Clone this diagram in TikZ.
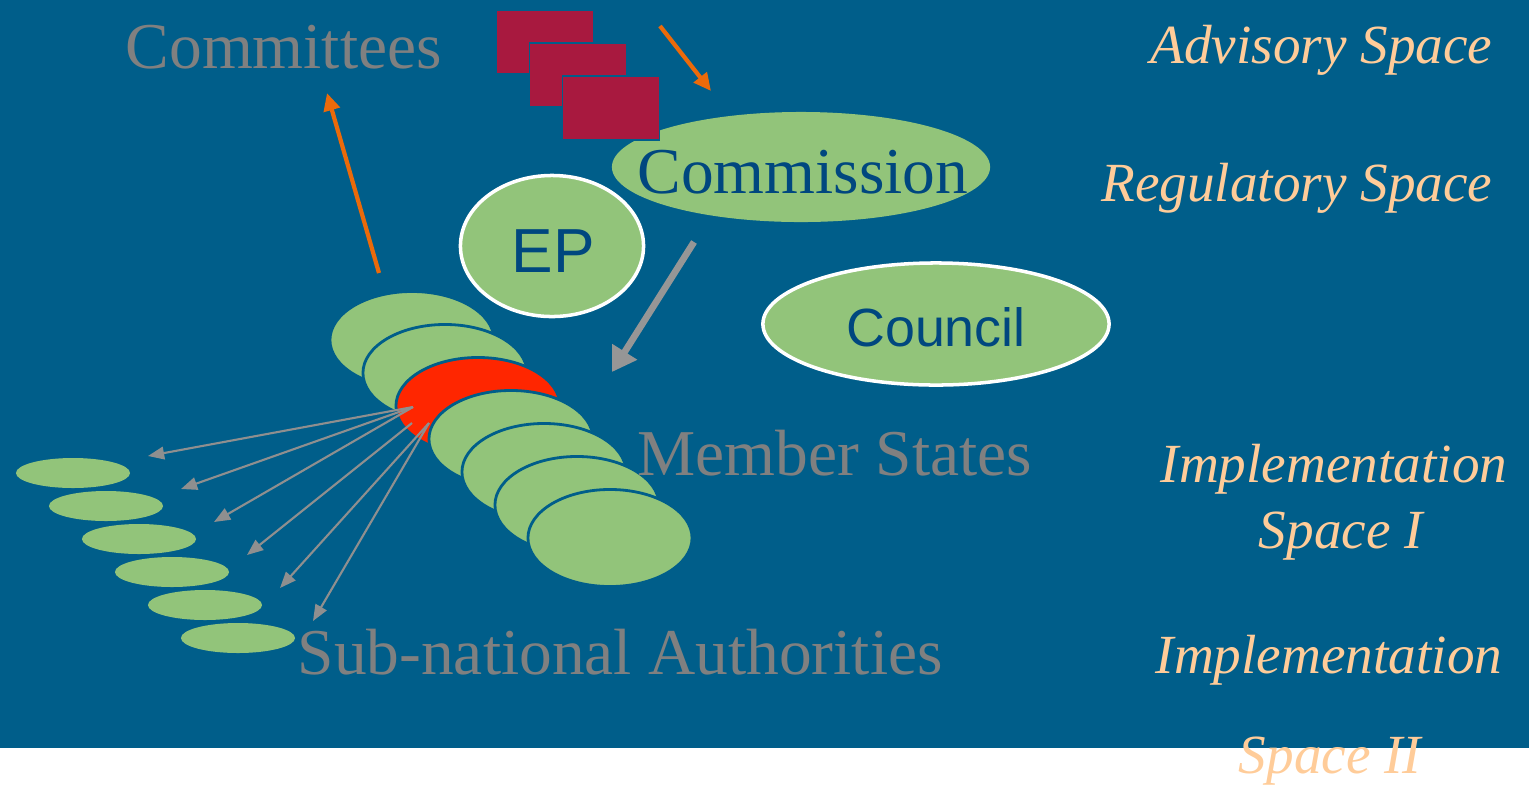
\documentclass[tikz,border=0pt]{standalone}
\usepackage{fontspec}
\setmainfont{Liberation Serif}
\newfontfamily\arialfont{Liberation Sans}
\usepackage{tikz}
\usetikzlibrary{arrows.meta,positioning,calc,shapes.geometric}
\definecolor{Bg}{HTML}{005E8A}
\definecolor{Leaf}{HTML}{92C47A}
\definecolor{Hot}{HTML}{FF2600}
\definecolor{Wine}{HTML}{A8193F}
\definecolor{Orng}{HTML}{EB6A0A}
\definecolor{Gry}{HTML}{808080}
\definecolor{Fan}{HTML}{8F8F8F}
\definecolor{Steel}{HTML}{969696}
\definecolor{Peach}{HTML}{FFCC99}
\definecolor{Navy}{HTML}{00477F}
\tikzset{
  >=Latex,
  ms/.style={ellipse,draw=Bg,line width=.8pt,fill=Leaf,minimum width=1.64cm,minimum height=.97cm,inner sep=0pt},
  subauth/.style={ellipse,fill=Leaf,minimum width=1.14cm,minimum height=.30cm,inner sep=0pt},
  inst/.style={ellipse,draw=white,line width=1pt,fill=Leaf,inner sep=0pt},
  doc/.style={rectangle,fill=Wine,draw=Bg,line width=.5pt,minimum width=.97cm,minimum height=.64cm,inner sep=0pt},
  orng/.style={-{Triangle[width=4.6pt,length=5pt]},line width=1.2pt,draw=Orng},
  fan/.style={-{Triangle[width=3.6pt,length=4.6pt]},line width=.6pt,draw=Fan},
  down/.style={-{Triangle[width=8pt,length=6.8pt]},line width=1.9pt,draw=Steel},
  grey/.style={text=Gry,font=\fontsize{18.6}{22}\selectfont,inner sep=0pt},
  dark/.style={text=Navy,inner sep=0pt},
  spc/.style={text=Peach,font=\itshape\fontsize{15.7}{19}\selectfont,inner sep=0pt}
}
\begin{document}
\begin{tikzpicture}[x=0.01cm,y=-0.01cm]
    \useasboundingbox (0,0) rectangle (1529,787);
    \fill[Bg] (0,0) rectangle (1529,748);
    % institutions
    \node[ellipse,fill=Leaf,minimum width=3.78cm,minimum height=1.10cm] (comm) at (801,167) {};
    \node[doc] (sq1) at (545,42) {};
    \node[doc] (sq2) at (578,75) {};
    \node[doc] (sq3) at (611,108) {};
    \node[inst,minimum width=1.83cm,minimum height=1.41cm] (ep) at (552,246) {};
    \node[inst,minimum width=3.46cm,minimum height=1.22cm] (coun) at (936,324) {};
    \node[dark,font=\fontsize{18.6}{22}\selectfont,anchor=base] (commlab) at ($(comm)+(2,26)$) {Commission};
    \node[dark,font=\arialfont\fontsize{17.7}{21}\selectfont,anchor=base] (eplab) at ($(ep)+(1,26)$) {EP};
    \node[dark,font=\arialfont\fontsize{15.3}{18}\selectfont,anchor=base] (counlab) at ($(coun)+(0,22)$) {Council};
    % member states and sub-national authorities
    \foreach \i/\c in {1/Leaf,2/Leaf,3/Hot,4/Leaf,5/Leaf,6/Leaf,7/Leaf}
      \node[ms,fill=\c] (ms\i) at ({379+33*\i},{307+33*\i}) {};
    \foreach \i in {1,...,6}
      \node[subauth] (sub\i) at ({40+33*\i},{440+33*\i}) {};
    \foreach \i/\sx/\sy in {1/-65/1,2/-65/1,3/-65/1,4/-66/17,5/-49/17,6/-49/17}
      \draw[fan] ($(ms3)+(\sx,\sy)$) -- ($(sub\i)+(75,-17)$);
    % labels
    \node[grey,anchor=base west] (comt) at (125,68) {Committees};
    \node[grey,anchor=base west] (mslab) at (637,475) {Member States};
    \node[grey,anchor=base west] (sublab) at (297,674) {Sub-national Authorities};
    \draw[orng] ($(ms1)+(-33,-67)$) -- ($(comt.base west)+(202,25)$);
    \draw[orng] ($(sq1)+(115,-16)$) -- ($(comm)+(-90,-76)$);
    \draw[down] ($(comm)+(-107,75)$) -- ($(ms4)+(101,-67)$);
    \node[spc,anchor=base east] (adv) at (1493,63) {Advisory Space};
    \node[spc,anchor=base east] (reg) at (1493,201) {Regulatory Space};
    \node[spc,anchor=base west] (imp1) at (1160,482) {Implementation};
    \node[spc,anchor=base] (sp1) at (1341,548) {Space I};
    \node[spc,anchor=base west] (imp2) at (1155,673) {Implementation};
    \node[spc,anchor=base] (sp2) at (1330,773) {Space II};
  \end{tikzpicture}
\end{document}
